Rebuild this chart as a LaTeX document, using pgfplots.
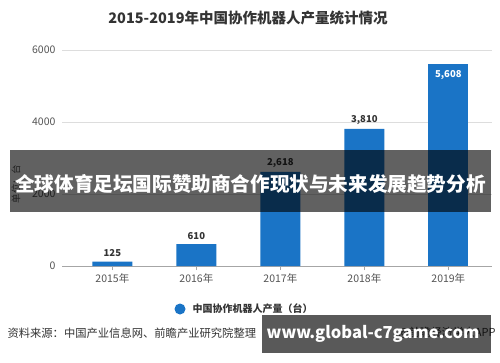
\documentclass[border=0pt]{standalone}
\usepackage{fontspec}
\setmainfont{Noto Sans CJK SC}
\usepackage{pgfplots}
\pgfplotsset{compat=1.18}
\definecolor{barblue}{HTML}{1A74C6}
\definecolor{txtgray}{HTML}{333333}
\definecolor{tickgray}{HTML}{555555}
\definecolor{gridgray}{HTML}{DDDDDD}
\begin{document}
\begin{tikzpicture}[x=1pt,y=1pt]
\useasboundingbox[fill=white] (0,0) rectangle (500,362);
\node[font=\fontsize{14.5}{17}\selectfont\bfseries, text=txtgray] at (248,344) {2015-2019年中国协作机器人产量统计情况};
\begin{axis}[
  at={(62pt,96pt)}, anchor=south west,
  width=430pt, height=216pt, scale only axis,
  xmin=-0.6, xmax=4.52, ymin=0, ymax=6000,
  xtick={0,1,2,3,4},
  xticklabels={2015年,2016年,2017年,2018年,2019年},
  ytick={0,2000,4000,6000},
  axis y line*=left, axis x line*=bottom,
  y axis line style={draw=none},
  x axis line style={draw=gray!70},
  ymajorgrids, grid style={gridgray, line width=0.6pt},
  major y tick style={draw=none},
  major x tick style={draw=gray!70},
  xtick align=outside, major tick length=4pt,
  tick label style={font=\fontsize{10.5}{12}\selectfont, text=tickgray},
  /pgf/number format/assume math mode=true,
  yticklabel style={/pgf/number format/1000 sep={}, xshift=-3pt},
  scaled y ticks=false,
  clip=false,
]
\addplot[ybar, bar width=40pt, bar shift=0pt, fill=barblue, draw=none,
  nodes near coords, nodes near coords style={font=\fontsize{9.5}{11}\selectfont\bfseries, text=txtgray, anchor=south, yshift=1pt, /pgf/number format/1000 sep={,}}]
  coordinates {(0,125) (1,610) (2,2618) (3,3810)};
\addplot[ybar, bar width=40pt, bar shift=0pt, fill=barblue, draw=none,
  nodes near coords, nodes near coords style={font=\fontsize{9.5}{11}\selectfont\bfseries, text=white, anchor=north, yshift=-3pt, /pgf/number format/1000 sep={,}}]
  coordinates {(4,5608)};
\end{axis}
\node[font=\fontsize{9.5}{11}\selectfont, text=tickgray, rotate=90] at (16,178) {单位：台};
% legend
\fill[barblue] (180,53) circle (5.5);
\node[anchor=west, font=\fontsize{10}{12}\selectfont\bfseries, text=txtgray] at (189,53) {中国协作机器人产量（台）};
% source
\node[anchor=west, font=\fontsize{11.3}{13}\selectfont, text=txtgray] at (4,29) {资料来源：中国产业信息网、前瞻产业研究院整理};
\node[anchor=east, font=\fontsize{11}{13}\selectfont, text=txtgray] at (499,29) {@前瞻经济学人APP};
% overlay banner
\fill[black, opacity=0.62] (10,150) rectangle (491,212);
\node[font=\fontsize{19.6}{23}\selectfont\bfseries, text=white] at (250.5,178) {全球体育足坛国际赞助商合作现状与未来发展趋势分析};
% watermark box
\fill[black, opacity=0.65] (262,9) rectangle (491,47);
\node[font=\fontsize{16.5}{19}\selectfont\bfseries, text=white] at (373,28) {www.global-c7game.com};
\end{tikzpicture}
\end{document}
